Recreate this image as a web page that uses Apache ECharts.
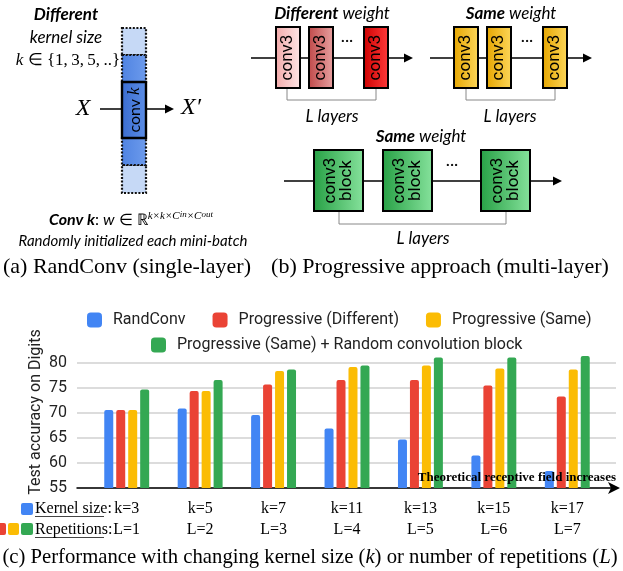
<!DOCTYPE html>
<html>
<head>
<meta charset="utf-8">
<script src="https://cdn.jsdelivr.net/npm/echarts@6/dist/echarts.min.js"></script>
<style>
  html, body { margin: 0; padding: 0; background: #fff; }
  #chart { width: 623px; height: 571px; }
</style>
</head>
<body>
<div id="chart"></div>
<script>
// Test accuracy on Digits for each kernel size / number of repetitions
const kernelSizes = ['k=3', 'k=5', 'k=7', 'k=11', 'k=13', 'k=15', 'k=17'];
const repetitions = ['L=1', 'L=2', 'L=3', 'L=4', 'L=5', 'L=6', 'L=7'];
const seriesNames = ['RandConv', 'Progressive (Different)', 'Progressive (Same)',
  'Progressive (Same) + Random convolution block'];
const randConv       = [70.6, 70.9, 69.6, 66.9, 64.7, 61.5, 58.4];
const progDifferent  = [70.6, 74.4, 75.7, 76.6, 76.6, 75.5, 73.3];
const progSame       = [70.6, 74.4, 78.4, 79.2, 79.5, 78.9, 78.7];
const progSameBlock  = [74.7, 76.6, 78.7, 79.5, 81.1, 81.1, 81.4];
const yMin = 55, yMax = 80, yStep = 5;

const COLORS = ['#4285F4', '#EA4335', '#FBBC04', '#34A853'];
const DIAG = 'Lato, "Open Sans", sans-serif';
const CHART = 'Roboto, Arial, sans-serif';
const SERIF = '"Liberation Serif", "Times New Roman", serif';

const g = [];
function text(x, y, t, font, extra) {
  extra = extra || {};
  g.push({
    type: 'text', x: x, y: y, rotation: extra.rot || 0, z: 100,
    style: Object.assign({
      text: t, font: font, fill: '#000',
      align: extra.align || 'center', verticalAlign: 'middle'
    }, extra.style || {})
  });
}
function line(x1, y1, x2, y2, color, w, dash) {
  g.push({ type: 'line', z: 50, shape: { x1: x1, y1: y1, x2: x2, y2: y2 },
    style: { stroke: color, lineWidth: w, lineDash: dash || null } });
}
function poly(points, color) {
  g.push({ type: 'polyline', z: 50, shape: { points: points },
    style: { stroke: color, lineWidth: 1, fill: null } });
}
function arrowHead(x, y) {
  g.push({ type: 'polygon', z: 50, shape: { points: [[x - 9, y - 4.5], [x, y], [x - 9, y + 4.5]] },
    style: { fill: '#000' } });
}
function grad(c1, c2) {
  return { type: 'linear', x: 0, y: 0, x2: 1, y2: 0,
    colorStops: [{ offset: 0, color: c1 }, { offset: 1, color: c2 }] };
}
function box(x, y, w, h, fill, stroke, lw, dash, z) {
  g.push({ type: 'rect', z: z || 60, shape: { x: x, y: y, width: w, height: h },
    style: { fill: fill, stroke: stroke, lineWidth: lw, lineDash: dash || null } });
}
const boldItalic = { b: { fontWeight: 'bold', fontStyle: 'italic', fontFamily: DIAG, fontSize: 17 } };

// ---- (a) single random convolution layer ----
text(66, 15, 'Different', 'italic bold 17px ' + DIAG);
text(66, 38, 'kernel size', 'italic 17px ' + DIAG);
text(68, 61, '{i|k} ∈ {1,\u20093,\u20095,\u2009..}', '17px ' + SERIF,
  { style: { rich: { i: { fontStyle: 'italic', fontFamily: SERIF, fontSize: 17 } } } });

const colX = 122, colW = 24;
const dotted = [2, 1.6];
box(colX, 28, colW, 27, '#c6d9f6', '#111', 2.2, dotted, 60);
box(colX, 55, colW, 27, grad('#4f83e2', '#6d9bec'), '#111', 2.2, dotted, 61);
box(colX, 138, colW, 27, grad('#4f83e2', '#6d9bec'), '#111', 2.2, dotted, 61);
box(colX, 165, colW, 28, '#c6d9f6', '#111', 2.2, dotted, 60);
box(colX, 82, colW, 56, grad('#3a6cd0', '#5c8ee6'), '#000', 2.4, null, 62);
text(colX + colW / 2 + 1, 110, 'conv {i|k}', '16px ' + DIAG,
  { rot: Math.PI / 2, style: { rich: { i: { fontStyle: 'italic', fontFamily: SERIF, fontSize: 17 } } } });

text(83, 109, 'X', 'italic 24px ' + SERIF);
line(100, 109, colX, 109, '#000', 1.5);
line(colX + colW, 109, 166, 109, '#000', 1.5);
arrowHead(174, 109);
text(191, 108, 'X′', 'italic 24px ' + SERIF);

text(131, 220, '{b|Conv k}: {i|w} ∈ ℝ{s|k×k×C}{u|in}{s|×C}{u|out}', '16px ' + DIAG, {
  style: { rich: {
    b: { fontWeight: 'bold', fontStyle: 'italic', fontFamily: DIAG, fontSize: 16 },
    i: { fontStyle: 'italic', fontFamily: DIAG, fontSize: 16 },
    s: { fontStyle: 'italic', fontFamily: SERIF, fontSize: 11, verticalAlign: 'top', padding: [0, 0, 8, 0] },
    u: { fontStyle: 'italic', fontFamily: SERIF, fontSize: 9, verticalAlign: 'top', padding: [0, 0, 4, 0] }
  } }
});
text(133, 241, 'Randomly initialized each mini-batch', 'italic 15px ' + DIAG);
text(127, 267, '(a) RandConv (single-layer)', '22px ' + SERIF);

// ---- (b) progressive approach ----
function rotLabel(cx, cy, t) {
  text(cx, cy, t, '17px ' + CHART, { rot: Math.PI / 2, style: { lineHeight: 16 } });
}
// different weights
text(332, 14, '{b|Different} weight', 'italic 17px ' + DIAG, { style: { rich: boldItalic } });
line(251, 58, 405, 58, '#000', 1.5);
arrowHead(413, 58);
poly([[287, 88], [287, 100], [376, 100], [376, 88]], '#888');
[[276, '#f3a9a9', '#fde6e6'], [309, '#c04848', '#e8a3a3'], [364, '#cc0000', '#ff3b3b']].forEach(function (b) {
  box(b[0], 27, 24, 61, grad(b[1], b[2]), '#000', 2);
  rotLabel(b[0] + 12, 57.5, 'conv3');
});
text(347, 42, '···', 'bold 14px ' + CHART);
text(332, 117, 'L layers', 'italic 17px ' + DIAG);

// same weights
text(511, 14, '{b|Same} weight', 'italic 17px ' + DIAG, { style: { rich: boldItalic } });
line(430, 58, 584, 58, '#000', 1.5);
arrowHead(592, 58);
poly([[466, 88], [466, 100], [555, 100], [555, 88]], '#888');
[454, 487, 543].forEach(function (x) {
  box(x, 27, 24, 61, grad('#e5a500', '#fdd75a'), '#000', 2);
  rotLabel(x + 12, 57.5, 'conv3');
});
text(527, 42, '···', 'bold 14px ' + CHART);
text(510, 117, 'L layers', 'italic 17px ' + DIAG);

// same weights, convolution blocks
text(421, 137, '{b|Same} weight', 'italic 17px ' + DIAG, { style: { rich: boldItalic } });
line(284, 181, 554, 181, '#000', 1.5);
arrowHead(562, 181);
poly([[339, 211], [339, 224], [506, 224], [506, 211]], '#888');
[314, 383, 481].forEach(function (x) {
  box(x, 150, 49, 61, grad('#27a045', '#86e29c'), '#000', 2);
  rotLabel(x + 24.5, 180.5, 'conv3\nblock');
});
text(452, 166, '···', 'bold 14px ' + CHART);
text(423, 239, 'L layers', 'italic 17px ' + DIAG);
text(440, 267, '(b) Progressive approach (multi-layer)', '22px ' + SERIF);

// ---- (c) chart annotations ----
text(36, 412, 'Test accuracy on Digits', '16px ' + CHART, { rot: Math.PI / 2, style: { fill: '#222' } });
text(616, 478, 'Theoretical receptive field increases', 'bold 13px ' + SERIF, { align: 'right' });
g.push({ type: 'rect', z: 100, shape: { x: 21, y: 503, width: 12, height: 12, r: 2 }, style: { fill: COLORS[0] } });
g.push({ type: 'rect', z: 100, shape: { x: -5, y: 523, width: 11, height: 12, r: 2 }, style: { fill: COLORS[1] } });
g.push({ type: 'rect', z: 100, shape: { x: 8, y: 523, width: 11, height: 12, r: 2 }, style: { fill: COLORS[2] } });
g.push({ type: 'rect', z: 100, shape: { x: 21, y: 523, width: 12, height: 12, r: 2 }, style: { fill: COLORS[3] } });
text(35, 509, 'Kernel size:', '16px ' + SERIF, { align: 'left' });
line(35, 516.5, 104, 516.5, '#444', 1);
text(35, 530, 'Repetitions:', '16px ' + SERIF, { align: 'left' });
line(35, 537.5, 104, 537.5, '#444', 1);
text(310, 558, '(c) Performance with changing kernel size ({i|k}) or number of repetitions ({i|L})', '20.7px ' + SERIF,
  { style: { rich: { i: { fontStyle: 'italic', fontFamily: SERIF, fontSize: 20.7 } } } });

const barData = [randConv, progDifferent, progSame, progSameBlock];
const series = barData.map(function (d, i) {
  return {
    name: seriesNames[i], type: 'bar', xAxisIndex: 0, yAxisIndex: 0,
    data: d, barWidth: 9, barGap: '33%',
    itemStyle: { color: COLORS[i], borderRadius: [2, 2, 0, 0] },
    emphasis: { disabled: true }
  };
});

const legendBase = {
  icon: 'roundRect', itemWidth: 15, itemHeight: 15, padding: 0,
  selectedMode: false,
  textStyle: { fontFamily: CHART, fontSize: 16, color: '#222', padding: [0, 0, 0, 6] }
};

const chart = echarts.init(document.getElementById('chart'), null, { renderer: 'canvas' });
chart.setOption({
  animation: false,
  backgroundColor: '#fff',
  legend: [
    Object.assign({}, legendBase, { data: seriesNames.slice(0, 3), left: 87, top: 312, itemGap: 27 }),
    Object.assign({}, legendBase, { data: seriesNames.slice(3), left: 151, top: 337 })
  ],
  grid: [
    { left: 90, right: 19, top: 338, bottom: 83 },
    { left: 77, right: 7, top: 363, bottom: 83 }
  ],
  xAxis: [
    {
      gridIndex: 0, type: 'category', data: kernelSizes,
      axisLine: { show: false }, axisTick: { show: false },
      axisLabel: {
        margin: 10, fontFamily: SERIF, fontSize: 16, color: '#000', lineHeight: 21,
        formatter: function (v, i) { return v + '\n' + repetitions[i]; }
      }
    },
    {
      gridIndex: 1, type: 'value', min: 0, max: 1,
      axisLabel: { show: false }, axisTick: { show: false }, splitLine: { show: false },
      axisLine: { show: true, lineStyle: { color: '#000', width: 1.5 },
        symbol: ['none', 'arrow'], symbolSize: [9, 12], symbolOffset: [0, 4] }
    }
  ],
  yAxis: [
    { gridIndex: 0, type: 'value', min: yMin, max: 85, show: false },
    {
      gridIndex: 1, type: 'value', min: yMin, max: yMax, interval: yStep,
      axisLine: { show: false }, axisTick: { show: false },
      axisLabel: { margin: 10, fontFamily: CHART, fontSize: 16, color: '#222' },
      splitLine: { lineStyle: { color: '#d0d0d0', width: 1.5 } }
    }
  ],
  series: series,
  graphic: { elements: g }
});
</script>
</body>
</html>
